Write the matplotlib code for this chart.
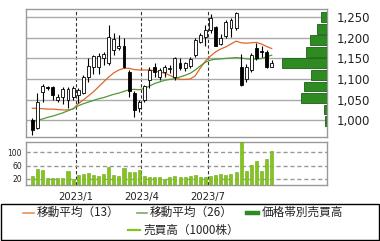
import numpy as np
import pandas as pd
import matplotlib
matplotlib.use('Agg')
import matplotlib.pyplot as plt
import matplotlib.dates as mdates
from matplotlib.lines import Line2D
from matplotlib.patches import Rectangle

# weekly candles
dates = pd.date_range('2022-11-02', periods=48, freq='7D')
opens = [1001, 981, 1069, 1080, 1080, 1049, 1057, 1049, 1057, 1061,
         1066, 1106, 1130, 1130, 1152, 1138, 1171, 1175, 1179, 1118,
         1066, 1029, 1049, 1098, 1130, 1106, 1118, 1125, 1106, 1138,
         1126, 1132, 1158, 1191, 1203, 1219, 1227, 1185, 1205, 1223,
         1223, 1130, 1100, 1122, 1175, 1167, 1166, 1130]
highs = [1005, 1066, 1087, 1083, 1082, 1063, 1080, 1080, 1082, 1078,
         1110, 1150, 1159, 1162, 1165, 1231, 1212, 1207, 1199, 1122,
         1070, 1049, 1086, 1130, 1138, 1126, 1134, 1134, 1154, 1150,
         1142, 1154, 1199, 1211, 1231, 1258, 1229, 1209, 1243, 1248,
         1262, 1160, 1137, 1162, 1187, 1179, 1170, 1146]
lows = [964, 978, 1045, 1074, 1049, 1044, 1040, 1029, 1049, 1041,
        1063, 1094, 1113, 1113, 1135, 1134, 1158, 1171, 1126, 1057,
        1007, 1020, 1045, 1078, 1106, 1098, 1106, 1115, 1098, 1122,
        1120, 1126, 1154, 1187, 1179, 1211, 1179, 1182, 1199, 1203,
        1219, 1082, 1094, 1118, 1146, 1154, 1126, 1128]
closes = [977, 1045, 1083, 1078, 1061, 1057, 1075, 1075, 1078, 1074,
          1106, 1132, 1157, 1155, 1160, 1203, 1198, 1181, 1130, 1070,
          1025, 1045, 1082, 1122, 1118, 1122, 1130, 1127, 1150, 1126,
          1138, 1148, 1195, 1207, 1219, 1249, 1179, 1199, 1239, 1243,
          1260, 1086, 1130, 1158, 1150, 1165, 1130, 1140]

ma13 = [1029, 1029, 1028, 1027, 1027, 1026, 1025, 1025, 1027, 1040,
        1049, 1059, 1069, 1081, 1093, 1105, 1115, 1122, 1126, 1126,
        1123, 1122, 1122, 1122, 1120, 1117, 1114, 1109, 1103, 1099,
        1099, 1100, 1108, 1127, 1144, 1156, 1166, 1173, 1178, 1185,
        1192, 1188, 1187, 1188, 1189, 1185, 1179, 1174]
ma26 = [996, 1000, 1003, 1007, 1010, 1014, 1018, 1023, 1028, 1035,
        1040, 1044, 1048, 1052, 1055, 1059, 1063, 1066, 1070, 1074,
        1075, 1074, 1077, 1083, 1089, 1093, 1097, 1099, 1101, 1105,
        1109, 1114, 1122, 1132, 1141, 1146, 1148, 1149, 1150, 1151,
        1152, 1151, 1149, 1148, 1148, 1150, 1154, 1158]

volume = [27, 51, 45, 23, 23, 23, 21, 42, 19, 31,
          34, 37, 30, 27, 33, 55, 30, 27, 52, 40,
          40, 45, 27, 24, 24, 24, 20, 24, 29, 24,
          24, 29, 32, 24, 26, 28, 31, 35, 30, 35,
          40, 133, 42, 61, 74, 42, 80, 105]

band_prices = [1250, 1222, 1194, 1166, 1138, 1110, 1082, 1054, 1026, 998]
band_volume = [63, 103, 170, 210, 447, 160, 230, 260, 30, 20]

price_ticks = [1000, 1050, 1100, 1150, 1200, 1250]
vol_ticks = [20, 60, 100]
month_ticks = pd.to_datetime(['2023-01-01', '2023-04-01', '2023-07-01'])
month_labels = ['2023/1', '2023/4', '2023/7']

W, H = 380, 241
x = mdates.date2num(dates)
xm = mdates.date2num(month_ticks)
xlim = (x[0] - 8.7, x[0] + 405)

fig = plt.figure(figsize=(W / 100, H / 100), dpi=100)
ax = fig.add_axes([26 / W, 1 - 136.5 / H, 301 / W, 127.5 / H])
axv = fig.add_axes([26 / W, 1 - 185.3 / H, 301 / W, 43.8 / H])

# price panel
o = np.array(opens)
c = np.array(closes)
up = c >= o
ax.vlines(x, lows, highs, color='black', lw=0.8, zorder=3)
ax.bar(x, np.maximum(np.abs(c - o), 1.5), bottom=np.minimum(o, c), width=4,
       color=np.where(up, 'white', 'black'), edgecolor='black', lw=0.6, zorder=4)
ax.plot(x, ma13, color='#e0662a', lw=0.9, zorder=2)
ax.plot(x, ma26, color='#4f9a35', lw=0.9, zorder=2)

ax.set_xlim(xlim)
ax.set_ylim(960.5, 1270)
ax.set_xticks(xm)
ax.set_xticklabels([])
ax.set_yticks(price_ticks)
ax.yaxis.tick_right()
ax.set_yticklabels([f'{t:,}' for t in price_ticks])
ax.tick_params(axis='both', length=0)
ax.tick_params(axis='y', pad=7, labelsize=8.5, labelcolor='#222222')
ax.grid(axis='y', color='#aaaaaa', lw=1)
ax.grid(axis='x', color='#333333', lw=0.8, ls=(0, (3, 2)))
ax.set_axisbelow(True)

# price band volume from the right edge
axb = ax.twiny()
axb.barh(band_prices, band_volume, height=24, color='#2e8b22',
         edgecolor='#1d5e16', lw=0.6)
axb.set_xlim(max(band_volume) * 301 / 44.7, 0)
axb.set_ylim(960.5, 1270)
axb.set_axis_off()

# volume panel
axv.bar(x, volume, width=4.2, color='#84c41e', edgecolor='#6aa814', lw=0.4, zorder=3)
axv.set_xlim(xlim)
axv.set_ylim(0, 133)
axv.set_yticks(vol_ticks)
axv.set_yticklabels([str(v) for v in vol_ticks])
axv.set_xticks(xm)
axv.set_xticklabels(month_labels)
axv.tick_params(axis='both', length=0)
axv.tick_params(axis='y', pad=3, labelsize=5.5, labelcolor='#222222')
axv.tick_params(axis='x', pad=5, labelsize=7.2, labelcolor='#222222')
axv.grid(axis='y', color='#999999', lw=1, ls=(0, (3, 2)))
axv.grid(axis='x', color='#333333', lw=0.8, ls=(0, (3, 2)))
axv.set_axisbelow(True)

for a in (ax, axv):
    for s in a.spines.values():
        s.set_color('#999999')
        s.set_linewidth(1)

# legend drawn by hand in pixel coordinates
def px(xp, yp):
    return xp / W, 1 - yp / H

fig.add_artist(Rectangle(px(1, 240), 378 / W, 36 / H, transform=fig.transFigure,
                         fill=False, ec='black', lw=1))
entries = [
    ('移動平均（13）', '#e8915a', 1.2, 23, 34, 212.5, 37),
    ('移動平均（26）', '#7aa86a', 1.2, 137, 147, 212.5, 150),
    ('価格帯別売買高', '#2e8b22', 3.2, 247, 258, 212.5, 262),
    ('売買高（1000株）', '#84c41e', 1.6, 128, 140, 230, 143),
]
for label, col, lw, x0, x1, yp, tx in entries:
    (fx0, fy), (fx1, _) = px(x0, yp), px(x1, yp)
    fig.add_artist(Line2D([fx0, fx1], [fy, fy], color=col, lw=lw,
                          transform=fig.transFigure))
    fig.text(tx / W, fy, label, va='center', ha='left', fontsize=8.4,
             color='#222222', family=['Noto Sans CJK JP', 'DejaVu Sans'])

fig.savefig('out.png', dpi=100)
